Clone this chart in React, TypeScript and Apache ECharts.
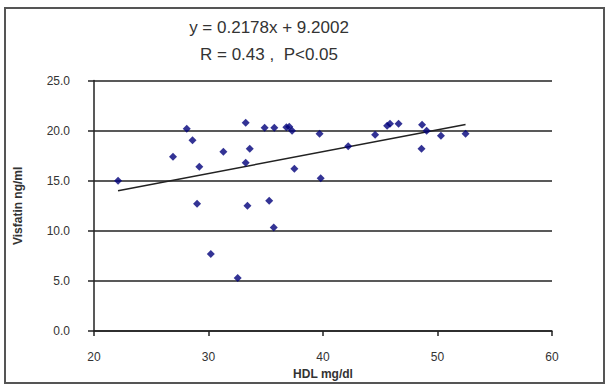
import React, { useEffect, useRef } from "react";
import * as echarts from "echarts";

const hdl = [22.1, 26.9, 28.1, 28.6, 29.2, 29.0, 30.2, 31.3, 32.55, 33.25, 33.6, 33.25, 33.4, 34.9, 35.75, 35.3, 35.7, 36.8, 37.05, 37.3, 37.5, 39.7, 39.8, 42.2, 44.55, 45.6, 45.85, 46.6, 48.65, 49.05, 48.6, 50.3, 52.45];
const visfatin = [15.0, 17.4, 20.2, 19.05, 16.4, 12.7, 7.7, 17.9, 5.3, 20.8, 18.2, 16.8, 12.5, 20.3, 20.3, 13.0, 10.35, 20.35, 20.4, 20.0, 16.2, 19.7, 15.25, 18.45, 19.6, 20.5, 20.7, 20.7, 20.6, 20.0, 18.2, 19.5, 19.7];
const slope = 0.2178;
const intercept = 9.2002;
const trendRange = [22.1, 52.45];
const titleLines = ["y = 0.2178x + 9.2002", "R = 0.43 ,  P<0.05"];

export default function App() {
  const ref = useRef<HTMLDivElement>(null);
  useEffect(() => {
    if (!ref.current) return;
    const chart = echarts.init(ref.current, null, { renderer: "svg" });
    const pts = hdl.map((x, i) => [x, visfatin[i]]);
    const trend = trendRange.map((x) => [x, slope * x + intercept]);
    chart.setOption({
      animation: false,
      backgroundColor: "#fff",
      textStyle: { fontFamily: "Liberation Sans, Arial, sans-serif" },
      graphic: [
        {
          type: "rect",
          shape: { x: 5, y: 8, width: 599, height: 375 },
          style: { fill: "none", stroke: "#555", lineWidth: 2 },
          silent: true,
        },
      ],
      title: {
        text: titleLines.join("\n"),
        left: 264,
        textAlign: "center",
        top: 9,
        textStyle: { fontSize: 17, fontWeight: "normal", color: "#333", lineHeight: 27, letterSpacing: -0.5 },
      },
      grid: { left: 94, right: 61, top: 80.6, bottom: 52.3 },
      xAxis: {
        type: "value",
        min: 20,
        max: 60,
        interval: 10,
        name: "HDL mg/dl",
        nameLocation: "middle",
        nameGap: 36,
        nameTextStyle: { fontSize: 12, fontWeight: "bold", color: "#333" },
        axisLine: { show: true, lineStyle: { color: "#222", width: 1.5 } },
        axisTick: { show: true, inside: false, length: 5, lineStyle: { color: "#222", width: 1.5 } },
        axisLabel: { fontSize: 12, color: "#333", margin: 20 },
        splitLine: { show: false },
      },
      yAxis: {
        type: "value",
        min: 0,
        max: 25,
        interval: 5,
        name: "Visfatin ng/ml",
        nameLocation: "middle",
        nameGap: 70,
        nameTextStyle: { fontSize: 12, fontWeight: "bold", color: "#333" },
        axisLine: { show: true, lineStyle: { color: "#222", width: 1.5 } },
        axisTick: { show: true, inside: false, length: 6, lineStyle: { color: "#222", width: 1.5 } },
        axisLabel: { fontSize: 12, color: "#333", margin: 24, formatter: (v: number) => v.toFixed(1) },
        splitLine: { show: true, lineStyle: { color: "#222", width: 1.5 } },
      },
      series: [
        {
          type: "scatter",
          data: pts,
          symbol: "diamond",
          symbolSize: 8,
          itemStyle: { color: "#00007a" },
          z: 3,
        },
        {
          type: "line",
          data: trend,
          showSymbol: false,
          lineStyle: { color: "#222", width: 1.5 },
          z: 2,
        },
      ],
    });
    return () => chart.dispose();
  }, []);
  return <div ref={ref} style={{ position: "fixed", left: 0, top: 0, width: 613, height: 385 }} />;
}
